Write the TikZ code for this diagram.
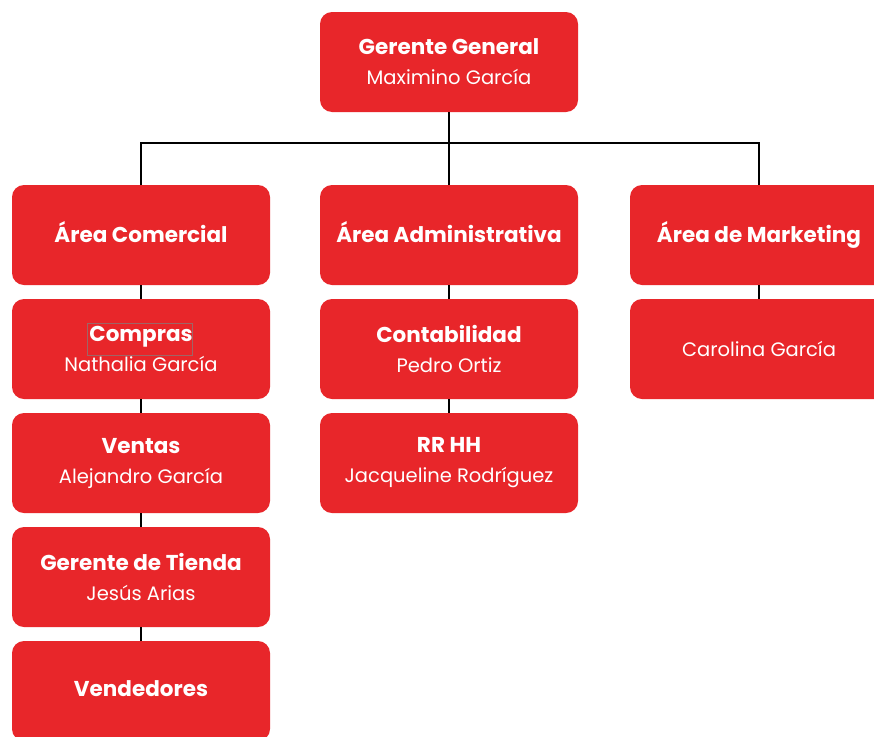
\documentclass[tikz,border=0pt]{standalone}
\usepackage{fontspec}
\setmainfont{Poppins}
\definecolor{boxred}{HTML}{E8262A}
\newcommand{\ttl}[1]{{\fontsize{21.5}{30}\selectfont\bfseries #1}}
\begin{document}
\begin{tikzpicture}[x=1pt,y=-1pt,
  box/.style={fill=boxred, draw=none, rounded corners=12pt, minimum width=258pt, minimum height=100pt, text=white, align=center, inner sep=0pt, font=\fontsize{19.5}{30}\selectfont},
  link/.style={draw=black, line width=1.8pt}]
\useasboundingbox (0,0) rectangle (874,736);
\clip (0,0) rectangle (874,736);
\fill[white] (0,0) rectangle (874,736);
\node[box] (gg) at (449,62) {\ttl{Gerente General}\\Maximino García};
\node[box] (com) at (141,235) {\ttl{Área Comercial}\vphantom{g}};
\node[box] (adm) at (449,235) {\ttl{Área Administrativa}\vphantom{g}};
\node[box] (mkt) at (759,235) {\ttl{Área de Marketing}};
\node[box] (cmp) at (141,349) {\ttl{Compras}\\Nathalia García};
\node[box] (ven) at (141,463) {\ttl{Ventas}\\Alejandro García};
\node[box] (tie) at (141,577) {\ttl{Gerente de Tienda}\\Jesús Arias};
\node[box] (vdr) at (141,691) {\ttl{Vendedores}\vphantom{g}};
\node[box] (con) at (449,349) {\ttl{Contabilidad}\\Pedro Ortiz};
\node[box] (rrh) at (449,463) {\ttl{RR HH}\\Jacqueline Rodríguez};
\node[box] (car) at (759,349) {Carolina García};
\coordinate (bus) at (449,143);
\draw[link] (gg.south) -- (adm.north);
\draw[link] (com.north) |- (bus) -| (mkt.north);
\draw[link] (com.south) -- (cmp.north);
\draw[link] (cmp.south) -- (ven.north);
\draw[link] (ven.south) -- (tie.north);
\draw[link] (tie.south) -- (vdr.north);
\draw[link] (adm.south) -- (con.north);
\draw[link] (con.south) -- (rrh.north);
\draw[link] (mkt.south) -- (car.north);
\draw[draw=gray!70!boxred, line width=0.6pt] (87,323) rectangle (192,355);
\end{tikzpicture}
\end{document}
